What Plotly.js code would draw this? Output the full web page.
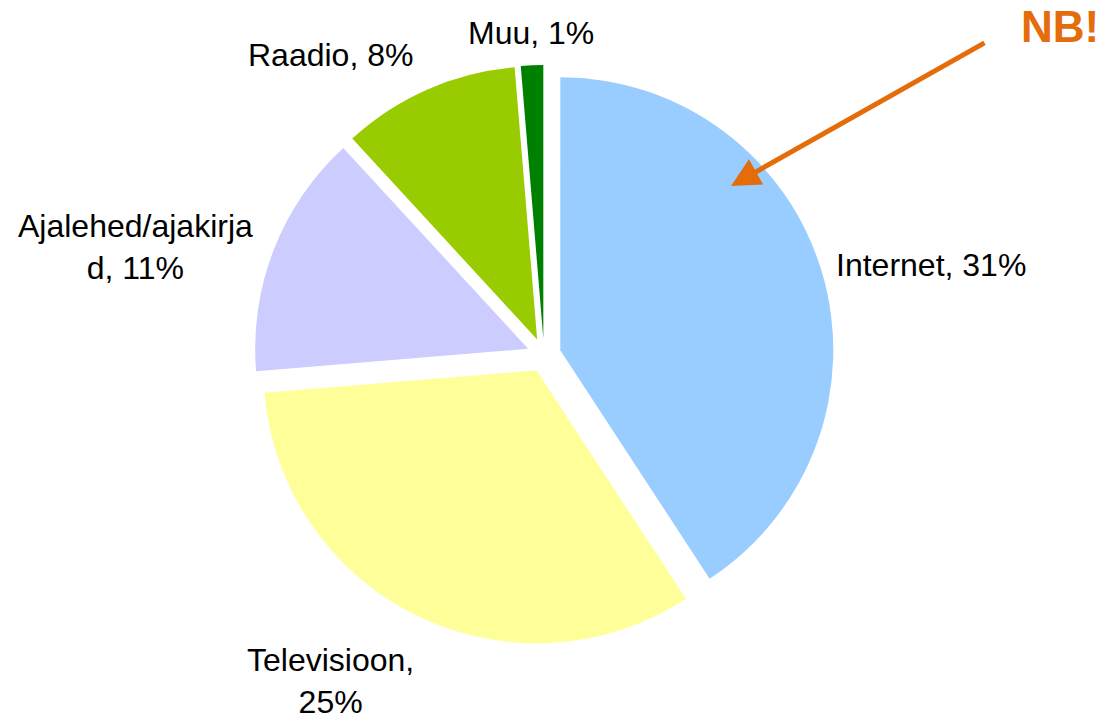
<!DOCTYPE html>
<html>
<head>
<meta charset="utf-8">
<script src="https://cdn.plot.ly/plotly-3.0.1.min.js"></script>
<style>
  html, body { margin: 0; padding: 0; background: #ffffff; }
  #chart { width: 1105px; height: 721px; }
</style>
</head>
<body>
<div id="chart"></div>
<script>
// ---- data ----
var labels = ["Internet", "Televisioon", "Ajalehed/ajakirjad", "Raadio", "Muu"];
var values = [31, 25, 11, 8, 1];
var colors = ["#99CCFF", "#FFFF99", "#CCCCFF", "#99CC00", "#008000"];
var noteText = "NB!";

// ---- layout helpers (positions / styles) ----
var W = 1105, H = 721;
var labelPos = [[931, 265], [330, 681], [135, 247], [330, 55], [531, 33]]; // pixel centres
var wrapAt = [40, 12, 17, 40, 40];

function wrap(text, width) {
  var words = text.split(" ");
  var lines = [];
  var cur = "";
  words.forEach(function (w) {
    while (w.length > width) {
      if (cur) { lines.push(cur); cur = ""; }
      lines.push(w.slice(0, width));
      w = w.slice(width);
    }
    if (!cur) cur = w;
    else if ((cur + " " + w).length <= width) cur = cur + " " + w;
    else { lines.push(cur); cur = w; }
  });
  if (cur) lines.push(cur);
  return lines.join("<br>");
}

var cx = 544, cy = 355, r = 273, pullPx = 17;
var pull = pullPx / r;
var half = r * (1 + pull);

var trace = {
  type: "pie",
  labels: labels,
  values: values,
  sort: false,
  direction: "clockwise",
  rotation: 0,
  pull: labels.map(function () { return pull; }),
  marker: { colors: colors, line: { width: 0 } },
  textinfo: "none",
  hoverinfo: "label+value",
  showlegend: false,
  domain: {
    x: [(cx - half) / W, (cx + half) / W],
    y: [1 - (cy + half) / H, 1 - (cy - half) / H]
  }
};

var annotations = labels.map(function (lab, i) {
  return {
    xref: "paper", yref: "paper",
    x: labelPos[i][0] / W, y: 1 - labelPos[i][1] / H,
    xanchor: "center", yanchor: "middle",
    text: wrap(lab + ", " + values[i] + "%", wrapAt[i]),
    showarrow: false,
    font: { family: "Liberation Sans, Arial, sans-serif", size: 32, color: "#000000" }
  };
});

annotations.push({
  xref: "paper", yref: "paper",
  x: 1101 / W, y: 1 - 27 / H,
  xanchor: "right", yanchor: "middle",
  text: "<b>" + noteText + "</b>",
  showarrow: false,
  font: { family: "Liberation Sans, Arial, sans-serif", size: 44, color: "#E46C0A" }
});

annotations.push({
  xref: "paper", yref: "paper",
  x: 731 / W, y: 1 - 186 / H,
  axref: "pixel", ayref: "pixel",
  ax: 986 - 731, ay: 42 - 186,
  text: "",
  showarrow: true,
  arrowhead: 2,
  arrowsize: 1.15,
  arrowwidth: 5,
  arrowcolor: "#E46C0A",
  standoff: 0,
  startstandoff: 0
});

var layout = {
  width: W, height: H,
  margin: { l: 0, r: 0, t: 0, b: 0 },
  paper_bgcolor: "#ffffff",
  plot_bgcolor: "#ffffff",
  showlegend: false,
  annotations: annotations
};

Plotly.newPlot("chart", [trace], layout, { displayModeBar: false, staticPlot: true });
</script>
</body>
</html>
